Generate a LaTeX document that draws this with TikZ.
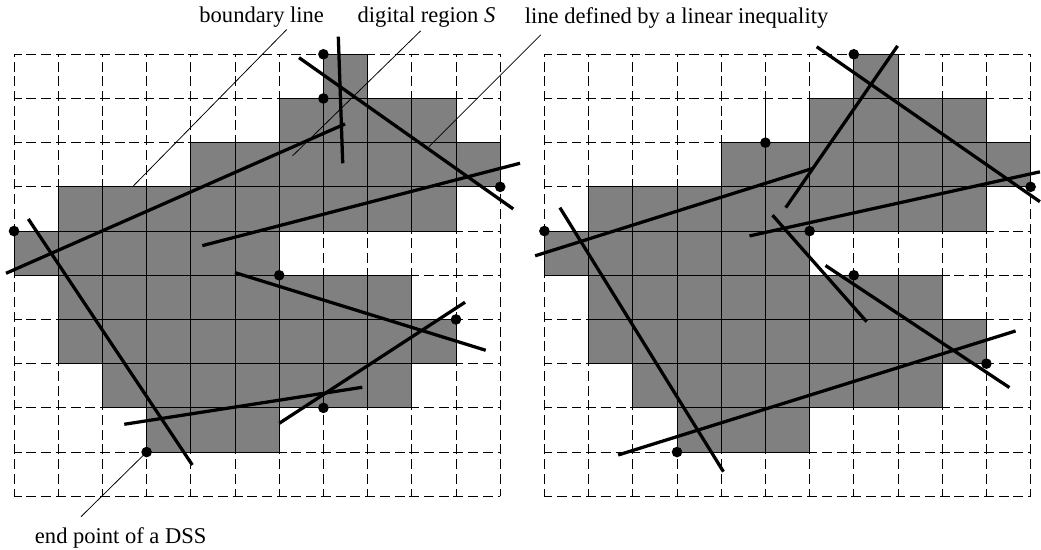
\documentclass[tikz,border=0pt]{standalone}
\usepackage{fontspec}
\setmainfont{Liberation Serif}
\usetikzlibrary{positioning}

\begin{document}
\begin{tikzpicture}[
  gridline/.style={line width=0.6pt, dash pattern=on 6.4pt off 3.08pt, dash phase=1.5pt},
  cell/.style={fill=black!50, draw=black, line width=0.6pt},
  dss/.style={line width=2.1pt},
  dotpt/.style={circle, fill=black, inner sep=0pt, minimum size=0.24cm},
  leader/.style={line width=0.5pt},
  lbl/.style={anchor=base, inner sep=0pt, font=\fontsize{14.5}{17}\selectfont}
]
\useasboundingbox (-0.317,-1.215) rectangle (23.235,11.228);

% the two grids with the digital region S
\foreach \ox in {0,12} {
  \draw[gridline] (\ox,0) grid (\ox+11,10);
  \foreach \r/\a/\b in {9/7/7, 8/6/9, 7/4/10, 6/1/9, 5/0/5, 4/1/8, 3/1/9, 2/2/8, 1/3/5}
    \foreach \c in {\a,...,\b}
      \filldraw[cell] (\ox+\c,\r) rectangle ++(1,1);
}

% end points (left)
\node[dotpt] (p1) at (7,10) {};
\node[dotpt] (p2) at (7,9) {};
\node[dotpt] (p3) at (11,7) {};
\node[dotpt] (p4) at (0,6) {};
\node[dotpt] (p5) at (6,5) {};
\node[dotpt] (p6) at (10,4) {};
\node[dotpt] (p7) at (7,2) {};
\node[dotpt] (p8) at (3,1) {};

% end points (right)
\node[dotpt] (q1) at (19,10) {};
\node[dotpt] (q2) at (17,8) {};
\node[dotpt] (q3) at (23,7) {};
\node[dotpt] (q4) at (12,6) {};
\node[dotpt] (q5) at (18,6) {};
\node[dotpt] (q6) at (19,5) {};
\node[dotpt] (q7) at (22,3) {};
\node[dotpt] (q8) at (15,1) {};
\draw[line width=0.6pt] (q2.center) -- ++(0,1);

% lines (left)
\draw[dss] (-0.181,5.045) -- (7.489,8.423);
\draw[dss] (7.337,10.398) -- (7.437,7.534);
\draw[dss] (6.448,9.923) -- (11.296,6.5);
\draw[dss] (4.260,5.670) -- (11.448,7.534);
\draw[dss] (0.324,6.274) -- (4.034,0.708);
\draw[dss] (5.0,5.059) -- (10.672,3.303);
\draw[dss] (6.002,1.652) -- (10.204,4.389);
\draw[dss] (2.495,1.629) -- (7.880,2.466);

% lines (right)
\draw[dss] (18.16,10.17) -- (23.21,6.665);
\draw[dss] (19.99,10.19) -- (17.46,6.53);
\draw[dss] (11.79,5.44) -- (18.08,7.42);
\draw[dss] (16.64,5.89) -- (23.21,7.34);
\draw[dss] (12.35,6.53) -- (16.05,0.557);
\draw[dss] (17.16,6.36) -- (19.29,3.95);
\draw[dss] (18.36,5.22) -- (22.52,2.46);
\draw[dss] (13.67,0.934) -- (22.66,3.74);

% labels
\node[lbl] (bline) at (5.604,10.719) {boundary line};
\node[lbl] (region) at (9.333,10.719) {digital region \textit{S}};
\node[lbl] (ineq) at (14.99,10.70) {line defined by a linear inequality};
\node[lbl] (endpt) at (2.414,-1.063) {end point of a DSS};

\coordinate (bline-to) at (2.68,7.0);
\coordinate (region-to) at (6.30,7.70);
\coordinate (ineq-to) at (9.39,7.91);
\draw[leader] (6.17,10.56) -- (bline-to);
\draw[leader] (9.20,10.53) -- (region-to);
\draw[leader] (11.92,10.44) -- (ineq-to);
\draw[leader] (1.516,-0.462) -- (p8.center);
\end{tikzpicture}
\end{document}
